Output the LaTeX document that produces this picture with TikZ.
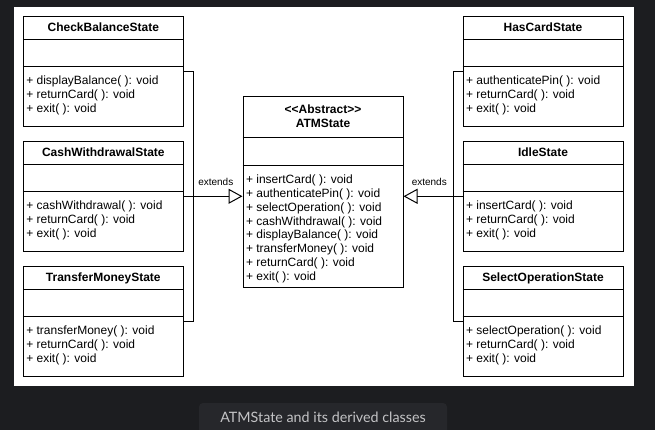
\documentclass[tikz,border=0pt]{standalone}
\usepackage{fontspec}
\setmainfont{Liberation Sans}[Ligatures=TeXOff]
\newfontfamily\capfont{Lato}
\usetikzlibrary{arrows.meta, positioning}

\definecolor{pagebg}{HTML}{1C1D20}
\definecolor{capbg}{HTML}{26272B}
\definecolor{captxt}{HTML}{C4C4C6}

\begin{document}
\begin{tikzpicture}[x=1pt, y=-1pt, line width=1pt,
      cls/.style={draw, fill=white, minimum width=160pt, minimum height=110pt, inner sep=0pt},
      ttl/.style={font=\fontsize{12}{14}\selectfont\bfseries, inner sep=0pt,
                  text height=8.6pt, text depth=0pt},
      mth/.style={font=\fontsize{12}{13.9}\selectfont, align=left, anchor=north west, inner sep=0pt},
      ext/.style={-{Triangle[fill=white, length=14pt, width=15pt]}},
      lbl/.style={font=\fontsize{10}{12}\selectfont, inner sep=0pt}]

    % ---- Frame ----
    \useasboundingbox (0,0) rectangle (655,430);
    \fill[pagebg] (0,0) rectangle (655,430);
    \fill[white] (14,7) rectangle (633.5,386);
    \fill[capbg, rounded corners=4pt] (199,403) rectangle (447,440);
    \node[font=\capfont\fontsize{14.3}{16}\selectfont, text=captxt] (cap) at (323,417)
         {ATMState and its derived classes};

    % ---- Layout ----
    \def\xL{103.3}   % left column x
    \def\xR{543}     % right column x
    \def\yA{71.3}    % top row y
    \def\yB{196.3}   % middle row y
    \def\yC{321.3}   % bottom row y

    % ---- Abstract base ----
    \node[cls, minimum height=190.6pt] (atm) at (323,192) {};
    \node[ttl] (atm-s) at ([yshift=-13.3]atm.north) {<<Abstract>>};
    \node[ttl] (atm-t) at ([yshift=-27.3]atm.north) {ATMState};
    \draw ([yshift=-41.6]atm.north west) -- ([yshift=-41.6]atm.north east);
    \draw ([yshift=-69]atm.north west) -- ([yshift=-69]atm.north east);
    \node[mth] (atm-m) at ([xshift=3, yshift=-78]atm.north west)
         {+ insertCard( ): void\\+ authenticatePin( ): void\\+ selectOperation( ): void\\
          + cashWithdrawal( ): void\\+ displayBalance( ): void\\+ transferMoney( ): void\\
          + returnCard( ): void\\+ exit( ): void};

    % ---- Left column ----
    \node[cls] (chk) at (\xL,\yA) {};
    \node[ttl] (chk-t) at ([yshift=-11]chk.north) {CheckBalanceState};
    \draw ([yshift=-24]chk.north west) -- ([yshift=-24]chk.north east);
    \draw ([yshift=-51]chk.north west) -- ([yshift=-51]chk.north east);
    \node[mth] (chk-m) at ([xshift=3, yshift=-60]chk.north west)
         {+ displayBalance( ): void\\+ returnCard( ): void\\+ exit( ): void};

    \node[cls] (csh) at (\xL,\yB) {};
    \node[ttl] (csh-t) at ([yshift=-11]csh.north) {CashWithdrawalState};
    \draw ([yshift=-24]csh.north west) -- ([yshift=-24]csh.north east);
    \draw ([yshift=-51]csh.north west) -- ([yshift=-51]csh.north east);
    \node[mth] (csh-m) at ([xshift=3, yshift=-60]csh.north west)
         {+ cashWithdrawal( ): void\\+ returnCard( ): void\\+ exit( ): void};

    \node[cls] (trf) at (\xL,\yC) {};
    \node[ttl] (trf-t) at ([yshift=-11]trf.north) {TransferMoneyState};
    \draw ([yshift=-24]trf.north west) -- ([yshift=-24]trf.north east);
    \draw ([yshift=-51]trf.north west) -- ([yshift=-51]trf.north east);
    \node[mth] (trf-m) at ([xshift=3, yshift=-60]trf.north west)
         {+ transferMoney( ): void\\+ returnCard( ): void\\+ exit( ): void};

    % ---- Right column ----
    \node[cls] (has) at (\xR,\yA) {};
    \node[ttl] (has-t) at ([yshift=-11]has.north) {HasCardState};
    \draw ([yshift=-24]has.north west) -- ([yshift=-24]has.north east);
    \draw ([yshift=-51]has.north west) -- ([yshift=-51]has.north east);
    \node[mth] (has-m) at ([xshift=3, yshift=-60]has.north west)
         {+ authenticatePin( ): void\\+ returnCard( ): void\\+ exit( ): void};

    \node[cls] (idl) at (\xR,\yB) {};
    \node[ttl] (idl-t) at ([yshift=-11]idl.north) {IdleState};
    \draw ([yshift=-24]idl.north west) -- ([yshift=-24]idl.north east);
    \draw ([yshift=-51]idl.north west) -- ([yshift=-51]idl.north east);
    \node[mth] (idl-m) at ([xshift=3, yshift=-60]idl.north west)
         {+ insertCard( ): void\\+ returnCard( ): void\\+ exit( ): void};

    \node[cls] (sel) at (\xR,\yC) {};
    \node[ttl] (sel-t) at ([yshift=-11]sel.north) {SelectOperationState};
    \draw ([yshift=-24]sel.north west) -- ([yshift=-24]sel.north east);
    \draw ([yshift=-51]sel.north west) -- ([yshift=-51]sel.north east);
    \node[mth] (sel-m) at ([xshift=3, yshift=-60]sel.north west)
         {+ selectOperation( ): void\\+ returnCard( ): void\\+ exit( ): void};

    % ---- Generalisation (extends) ----
    \coordinate (jl) at (193.3,\yB);
    \coordinate (jr) at (453.3,\yB);
    \draw (chk.east) -| (jl) |- (trf.east);
    \draw[ext] (csh.east) -- (atm.west |- csh.east)
          node[lbl, pos=0.545, above=10pt] (ext-l) {extends};
    \draw (has.west) -| (jr) |- (sel.west);
    \draw[ext] (idl.west) -- (atm.east |- idl.west)
          node[lbl, pos=0.563, above=10pt] (ext-r) {extends};

\end{tikzpicture}
\end{document}
